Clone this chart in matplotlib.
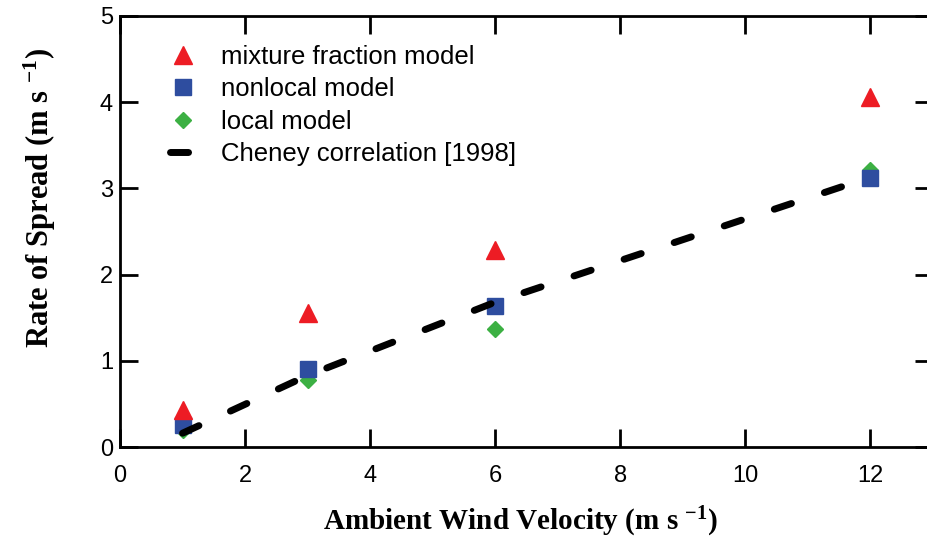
import matplotlib
matplotlib.use('Agg')
import matplotlib.pyplot as plt

# data
wind = [1, 3, 6, 12]
mixture = [0.43, 1.55, 2.28, 4.06]
nonlocal_ros = [0.25, 0.90, 1.63, 3.12]
local_ros = [0.20, 0.78, 1.37, 3.21]
cheney_x = [1, 3, 6, 12]
cheney_y = [0.16, 0.83, 1.68, 3.13]

plt.rcParams['font.family'] = ['Liberation Sans', 'DejaVu Sans']
plt.rcParams['mathtext.fontset'] = 'custom'
plt.rcParams['mathtext.rm'] = 'Liberation Serif:bold'
plt.rcParams['mathtext.bf'] = 'Liberation Serif:bold'
plt.rcParams['mathtext.it'] = 'Liberation Serif:bold'
plt.rcParams['lines.scale_dashes'] = False

W, H = 927, 543
fig = plt.figure(figsize=(W / 100, H / 100), dpi=100)
# axes run past the right edge of the figure, like the cropped original
ax = fig.add_axes([120 / W, (H - 447) / H, (933 - 120) / W, (447 - 16) / H])

ax.plot(wind, local_ros, linestyle='none', marker='D', markersize=8.5,
        color='#3CB043', label='local model', zorder=3)
ax.plot(wind, nonlocal_ros, linestyle='none', marker='s', markersize=12,
        color='#2E4D9F', label='nonlocal model', zorder=4)
ax.plot(wind, mixture, linestyle='none', marker='^', markersize=12.5,
        color='#ED1C24', label='mixture fraction model', zorder=4)
cheney, = ax.plot(cheney_x, cheney_y, color='black', linewidth=5,
                  dash_capstyle='round', solid_capstyle='round',
                  label='Cheney correlation [1998]', zorder=5)
cheney.set_dashes([13, 25])

ax.set_xlim(0, 13)
ax.set_ylim(0, 5)
ax.set_xticks(range(0, 13, 2))
ax.set_yticks(range(0, 6))

for side in ['left', 'right', 'top', 'bottom']:
    ax.spines[side].set_linewidth(2)
ax.tick_params(direction='in', length=13, width=2, top=True, right=True,
               labelsize=17)
ax.tick_params(axis='x', pad=13)
ax.tick_params(axis='y', pad=5)

handles, labels = ax.get_legend_handles_labels()
order = [2, 1, 0, 3]
ax.legend([handles[i] for i in order], [labels[i] for i in order],
          loc='upper left', bbox_to_anchor=(170 / W, 1 - 45 / H),
          bbox_transform=fig.transFigure, frameon=False, fontsize=18.5,
          handlelength=1.05, handletextpad=0.95, labelspacing=0.33,
          borderpad=0, borderaxespad=0)

fig.text(520 / W, 1 - 522 / H, r'Ambient Wind Velocity (m s $^{-1}$)',
         ha='center', va='center', fontsize=21, fontweight='bold',
         family='Liberation Serif')
fig.text(40 / W, 1 - 198 / H, r'Rate of Spread (m s $^{-1}$)',
         ha='center', va='center', fontsize=22, fontweight='bold',
         family='Liberation Serif', rotation=90)

fig.savefig('out.png', dpi=100)
